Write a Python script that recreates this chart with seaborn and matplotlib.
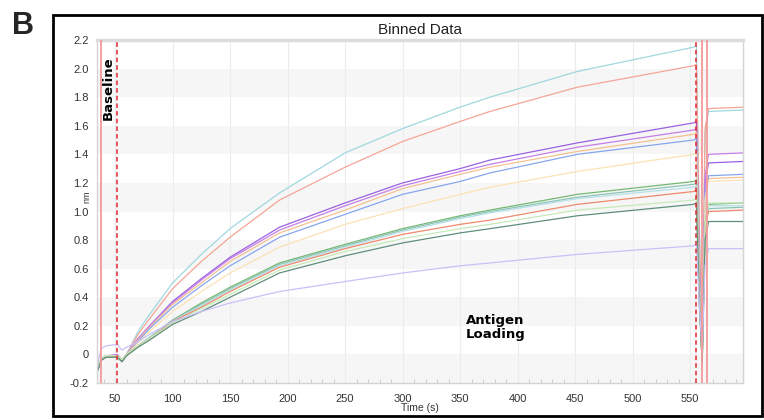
#!/usr/bin/env python3
"""Binned BLI data: baseline + antigen loading traces."""

import matplotlib
matplotlib.use("Agg")
import matplotlib.pyplot as plt
from matplotlib.patches import Rectangle
from matplotlib.ticker import MultipleLocator
import pandas as pd
import seaborn as sns

# --- Data ---

time_s = [35, 38, 42, 52, 56, 60, 70, 80, 100, 125, 150, 193, 250, 300, 350, 376, 452, 553,
          555.5, 558, 560.5, 563, 566, 596]

traces = {
    "cyan":        [-0.10, -0.03, -0.01, -0.01, -0.05, 0.00, 0.16, 0.28, 0.50, 0.70, 0.88, 1.13, 1.41, 1.58, 1.73, 1.80, 1.98, 2.15, 2.16, 0.90, 0.05, 1.55, 1.70, 1.71],
    "salmon":      [-0.09, -0.03, -0.01, -0.01, -0.04, 0.00, 0.14, 0.25, 0.46, 0.65, 0.82, 1.08, 1.31, 1.49, 1.63, 1.70, 1.87, 2.02, 2.03, 0.85, 0.04, 1.58, 1.72, 1.73],
    "purple":      [-0.11, -0.04, -0.02, -0.01, -0.05, 0.00, 0.11, 0.20, 0.37, 0.53, 0.68, 0.89, 1.06, 1.20, 1.30, 1.36, 1.48, 1.62, 1.63, 0.65, -0.02, 1.20, 1.34, 1.35],
    "violet":      [-0.10, -0.03, -0.01, 0.00, -0.04, 0.00, 0.11, 0.20, 0.36, 0.52, 0.67, 0.87, 1.04, 1.18, 1.28, 1.33, 1.45, 1.57, 1.58, 0.62, -0.03, 1.25, 1.40, 1.41],
    "orange":      [-0.10, -0.04, -0.01, -0.01, -0.04, 0.00, 0.10, 0.19, 0.35, 0.50, 0.65, 0.85, 1.01, 1.16, 1.26, 1.31, 1.42, 1.54, 1.55, 0.60, -0.05, 1.10, 1.23, 1.24],
    "blue":        [-0.11, -0.04, -0.02, -0.01, -0.05, 0.00, 0.09, 0.18, 0.33, 0.48, 0.62, 0.82, 0.98, 1.12, 1.21, 1.27, 1.40, 1.50, 1.51, 0.55, -0.06, 1.12, 1.25, 1.26],
    "yellow":      [-0.09, -0.03, -0.01, -0.01, -0.04, 0.00, 0.08, 0.16, 0.30, 0.44, 0.57, 0.75, 0.91, 1.02, 1.12, 1.17, 1.28, 1.40, 1.41, 0.50, -0.05, 1.08, 1.21, 1.22],
    "green":       [-0.10, -0.03, -0.01, -0.02, -0.05, 0.00, 0.06, 0.12, 0.24, 0.36, 0.47, 0.64, 0.77, 0.88, 0.97, 1.01, 1.12, 1.21, 1.22, 0.45, -0.08, 0.92, 1.05, 1.06],
    "teal":        [-0.10, -0.04, -0.01, -0.01, -0.05, 0.00, 0.06, 0.12, 0.24, 0.35, 0.46, 0.63, 0.76, 0.87, 0.96, 1.00, 1.10, 1.19, 1.20, 0.42, -0.07, 0.90, 1.02, 1.03],
    "light cyan":  [-0.09, -0.03, -0.01, -0.01, -0.04, 0.00, 0.06, 0.12, 0.23, 0.34, 0.45, 0.62, 0.75, 0.86, 0.95, 0.99, 1.09, 1.17, 1.18, 0.40, -0.06, 0.90, 1.04, 1.04],
    "red":         [-0.10, -0.04, -0.02, -0.01, -0.05, 0.00, 0.06, 0.11, 0.23, 0.33, 0.44, 0.61, 0.74, 0.84, 0.91, 0.94, 1.05, 1.14, 1.15, 0.40, -0.05, 0.88, 1.00, 1.01],
    "light green": [-0.10, -0.03, -0.01, -0.01, -0.04, 0.00, 0.06, 0.11, 0.22, 0.32, 0.42, 0.59, 0.72, 0.81, 0.88, 0.91, 1.01, 1.08, 1.09, 0.38, -0.04, 0.90, 1.06, 1.06],
    "dark green":  [-0.11, -0.04, -0.02, -0.02, -0.05, -0.01, 0.05, 0.10, 0.21, 0.30, 0.40, 0.57, 0.69, 0.78, 0.85, 0.88, 0.97, 1.05, 1.06, 0.36, -0.05, 0.80, 0.93, 0.93],
    "lavender":    [-0.06, 0.04, 0.06, 0.07, 0.03, 0.05, 0.09, 0.14, 0.23, 0.30, 0.36, 0.44, 0.51, 0.57, 0.62, 0.64, 0.70, 0.76, 0.77, 0.35, 0.02, 0.62, 0.74, 0.74],
}

palette = {
    "cyan": "#9fd8df", "salmon": "#f5a595", "purple": "#9a62e0", "violet": "#c57ee6",
    "orange": "#f3c190", "blue": "#86a6ee", "yellow": "#fbe2b4", "green": "#74b874",
    "teal": "#8cc4b4", "light cyan": "#b6dfe8", "red": "#ee8a6c", "light green": "#c6eab8",
    "dark green": "#5f8f7c", "lavender": "#c9c0f6",
}

x_ticks = [50, 100, 150, 200, 250, 300, 350, 400, 450, 500, 550]
y_ticks = [-0.2, 0, 0.2, 0.4, 0.6, 0.8, 1.0, 1.2, 1.4, 1.6, 1.8, 2.0, 2.2]
y_labels = ["-0.2", "0", "0.2", "0.4", "0.6", "0.8", "1.0", "1.2", "1.4", "1.6", "1.8", "2.0", "2.2"]
shade_bands = [(-0.2, 0.0), (0.2, 0.4), (0.6, 0.8), (1.0, 1.2), (1.4, 1.6), (1.8, 2.0)]
step_solid = [38, 560, 564.5]
step_dashed = [52, 555.5]

df = pd.DataFrame(
    [(name, t, v) for name, vals in traces.items() for t, v in zip(time_s, vals)],
    columns=["sensor", "time", "nm"],
)

# --- Plot ---

sns.set_theme(style="white")
plt.rcParams["font.family"] = ["Liberation Sans", "DejaVu Sans"]

fig = plt.figure(figsize=(7.64, 4.2), dpi=100)
ax = fig.add_axes([97 / 764, 1 - 383 / 420, (743 - 97) / 764, (383 - 40) / 420])

for lo, hi in shade_bands:
    ax.axhspan(lo, hi, color="#f6f6f6", lw=0, zorder=0)
for xt in x_ticks:
    ax.axvline(xt, color="#ececec", lw=0.8, zorder=0.5)

sns.lineplot(data=df, x="time", y="nm", hue="sensor", palette=palette,
             estimator=None, sort=False, legend=False, lw=0.9, ax=ax)

for xv in step_solid:
    ax.axvline(xv, color="#f39a9a", lw=1.3, zorder=3)
for xv in step_dashed:
    ax.axvline(xv, color="#e3262c", lw=1.1, ls=(0, (3, 2)), zorder=3)

ax.set_xlim(34.3, 596)
ax.set_ylim(-0.2, 2.2)
ax.set_xticks(x_ticks)
ax.xaxis.set_minor_locator(MultipleLocator(10))
ax.set_yticks(y_ticks)
ax.set_yticklabels(y_labels)

ax.tick_params(axis="both", which="major", labelsize=8, labelcolor="#333333",
               color="#c4c4c4", direction="out", length=4, width=0.8, pad=2)
ax.tick_params(axis="x", which="major", length=6)
ax.tick_params(axis="x", which="minor", direction="in", length=3, color="#cccccc",
               width=0.7, bottom=True)

for side in ["left", "bottom", "right"]:
    ax.spines[side].set_color("#d4d4d4")
    ax.spines[side].set_linewidth(1)
ax.spines["top"].set_color("#dcdcdc")
ax.spines["top"].set_linewidth(2.5)

ax.set_xlabel("Time (s)", fontsize=7.5, color="#333333", labelpad=-1)
ax.set_ylabel("nm", fontsize=6.5, color="#333333")
ax.yaxis.set_label_coords(-0.008, 0.542)
ax.set_title("Binned Data", fontsize=11, color="#222222", pad=4)

# annotations use a heavier face, closer to the reference's black-weight labels
ax.text(44, 1.86, "Baseline", rotation=90, ha="center", va="center",
        fontsize=9.5, fontweight="bold", color="black", family="DejaVu Sans")
ax.text(355, 0.19, "Antigen\nLoading", ha="left", va="center",
        fontsize=9.5, fontweight="bold", color="black", family="DejaVu Sans",
        linespacing=1.15)

fig.add_artist(Rectangle((53 / 764, 1 - 416 / 420), (762 - 53) / 764, (416 - 15) / 420,
                         transform=fig.transFigure, fill=False, lw=2, ec="black"))
fig.text(12 / 764, 1 - 11 / 420, "B", fontsize=22, fontweight="bold", va="top", ha="left")

fig.savefig("out.png", dpi=100)
